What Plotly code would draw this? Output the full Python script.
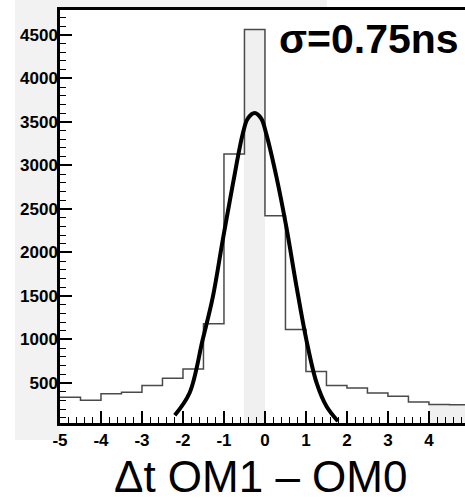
import plotly.graph_objects as go

# ---- data ----
bin_edges = [-5.0, -4.5, -4.0, -3.5, -3.0, -2.5, -2.0, -1.5, -1.0, -0.5,
             0.0, 0.5, 1.0, 1.5, 2.0, 2.5, 3.0, 3.5, 4.0, 4.5, 5.0]
counts = [335, 300, 375, 392, 472, 555, 660, 1179, 3130, 4560,
          2421, 1115, 633, 470, 442, 385, 346, 282, 252, 250]

# Gaussian fit curve
fit_x = [-2.2, -1.84, -1.52, -1.27, -1.03, -0.78, -0.54, -0.42, -0.25,
         -0.09, 0.03, 0.28, 0.52, 0.77, 1.01, 1.26, 1.50, 1.78]
fit_y = [130, 385, 996, 1492, 2142, 2792, 3365, 3537, 3601,
         3537, 3365, 2868, 2295, 1607, 996, 500, 232, 60]

x_tick_vals = [-5, -4, -3, -2, -1, 0, 1, 2, 3, 4]
x_tick_labels = ["-5", "-4", "-3", "-2", "-1", "0", "1", "2", "3", "4"]
y_tick_vals = [500, 1000, 1500, 2000, 2500, 3000, 3500, 4000, 4500]
y_tick_labels = ["500", "1000", "1500", "2000", "2500", "3000", "3500", "4000", "4500"]

sigma_label = "σ=0.75ns"
x_title = "Δt OM1 – OM0"

# ---- figure ----
centers = [(bin_edges[i] + bin_edges[i + 1]) / 2 for i in range(len(counts))]
widths = [bin_edges[i + 1] - bin_edges[i] for i in range(len(counts))]
grey_bins = {9, 18, 19}
bar_colors = ["#f0f0f0" if i in grey_bins else "white" for i in range(len(counts))]

fig = go.Figure()
fig.add_trace(go.Bar(x=centers, y=counts, width=widths,
                     marker=dict(color=bar_colors, line=dict(width=0)),
                     hoverinfo="skip", showlegend=False))
fig.add_trace(go.Scatter(x=bin_edges, y=counts + [counts[-1]], mode="lines",
                         line=dict(shape="hv", color="#4a4a4a", width=1.5),
                         showlegend=False))
fig.add_trace(go.Scatter(x=fit_x, y=fit_y, mode="lines",
                         line=dict(shape="spline", smoothing=1.0, color="black", width=4),
                         showlegend=False))

tick_font = dict(family="Liberation Sans, Arial, sans-serif", size=17, color="black", weight="bold")

fig.update_layout(
    width=465, height=502,
    margin=dict(l=60, r=0, t=10, b=79),
    paper_bgcolor="white", plot_bgcolor="white",
    bargap=0,
    xaxis=dict(range=[-5, 4.88], tickmode="array", tickvals=x_tick_vals, ticktext=x_tick_labels,
               ticks="inside", ticklen=12, tickwidth=1.5, tickcolor="black",
               showline=True, linecolor="black", linewidth=2.5, mirror=True,
               showgrid=False, zeroline=False, tickfont=tick_font,
               minor=dict(tickmode="linear", tick0=0, dtick=0.2, ticks="inside",
                          ticklen=6, tickwidth=1.2, tickcolor="black", showgrid=False)),
    yaxis=dict(range=[40, 4785], tickmode="array", tickvals=y_tick_vals, ticktext=y_tick_labels,
               ticks="inside", ticklen=12, tickwidth=1.5, tickcolor="black",
               showline=True, linecolor="black", linewidth=2.5,
               showgrid=False, zeroline=False, tickfont=tick_font, ticklabelstandoff=-4,
               minor=dict(tickmode="linear", tick0=0, dtick=100, ticks="inside",
                          ticklen=6, tickwidth=1.2, tickcolor="black", showgrid=False)),
    shapes=[
        dict(type="rect", xref="paper", yref="paper", x0=-0.111, x1=0, y0=-0.041, y1=1.025,
             fillcolor="#f2f2f2", line=dict(width=0), layer="below"),
        dict(type="rect", xref="paper", yref="paper", x0=-0.111, x1=0.659, y0=1.0, y1=1.025,
             fillcolor="#f2f2f2", line=dict(width=0), layer="below"),
    ],
    annotations=[
        dict(text=sigma_label, x=0.29, y=4455, xref="x", yref="y",
             xanchor="left", yanchor="middle", showarrow=False,
             font=dict(family="Liberation Sans, Arial, sans-serif", size=41, color="black", weight="bold")),
        dict(text=x_title, x=0.496, y=-0.129, xref="paper", yref="paper",
             xanchor="center", yanchor="middle", showarrow=False,
             font=dict(family="Liberation Sans, Arial, sans-serif", size=44, color="black")),
    ],
)

fig.write_html(
    "out.html",
    config={"displayModeBar": False},
    post_script="document.body.style.margin='0';document.body.style.padding='0';"
                "document.body.style.overflow='hidden';"
                "document.documentElement.style.overflow='hidden';",
)
